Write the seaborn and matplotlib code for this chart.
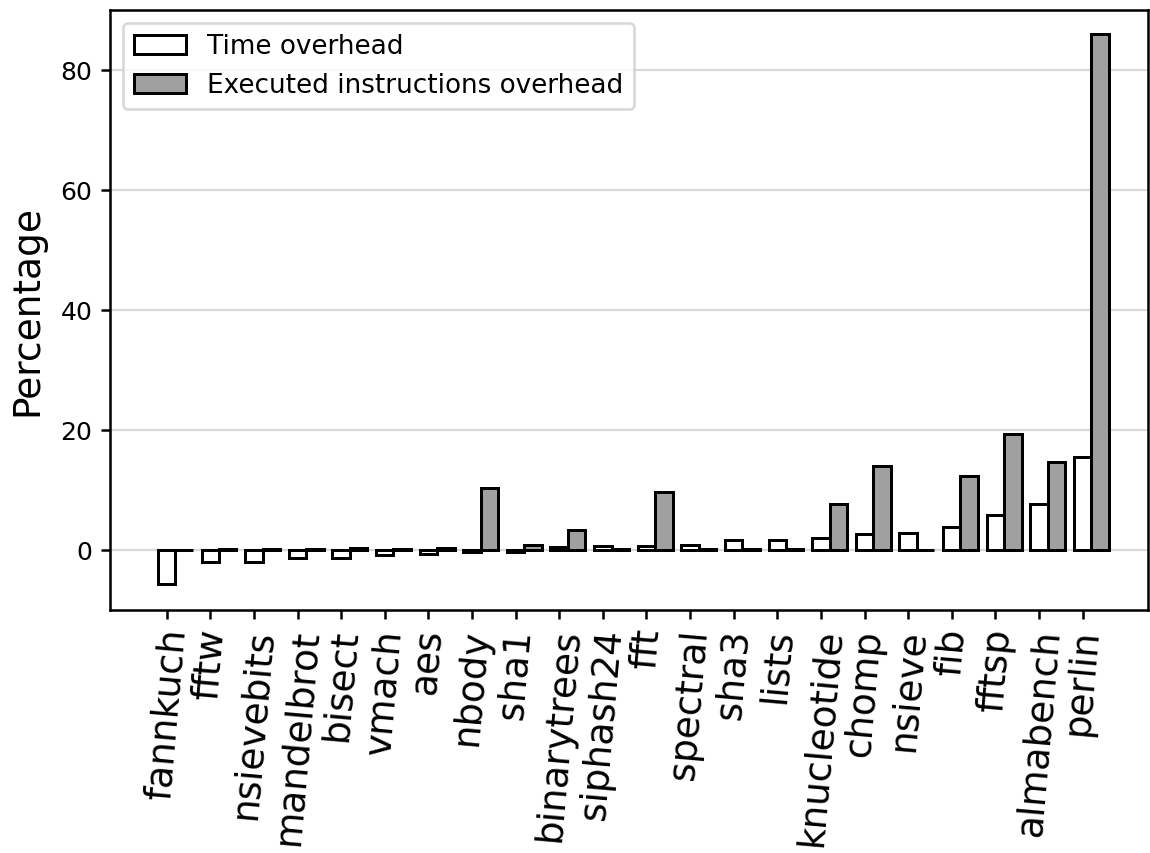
import numpy as np
import pandas as pd
import seaborn as sns
import matplotlib.pyplot as plt

# Benchmarks e overheads (%)
benchmarks = ['fannkuch', 'fftw', 'nsievebits', 'mandelbrot', 'bisect', 'vmach',
              'aes', 'nbody', 'sha1', 'binarytrees', 'siphash24', 'fft',
              'spectral', 'sha3', 'lists', 'knucleotide', 'chomp', 'nsieve',
              'fib', 'fftsp', 'almabench', 'perlin']
time_overhead = [-5.6, -2.0, -2.0, -1.3, -1.3, -0.9,
                 -0.6, -0.3, -0.3, 0.5, 0.6, 0.7,
                 0.8, 1.6, 1.6, 2.0, 2.6, 2.9,
                 3.9, 5.8, 7.7, 15.5]
instr_overhead = [0.05, 0.2, 0.1, 0.15, 0.3, 0.1,
                  0.3, 10.3, 0.8, 3.3, 0.2, 9.6,
                  0.1, 0.1, 0.1, 7.6, 14.0, 0.05,
                  12.4, 19.4, 14.6, 86.0]
series = ['Time overhead', 'Executed instructions overhead']

df = pd.DataFrame({
    'benchmark': benchmarks * 2,
    'value': time_overhead + instr_overhead,
    'kind': [series[0]] * len(benchmarks) + [series[1]] * len(benchmarks),
})

sns.set_style('ticks')
plt.rcParams['font.family'] = ['DejaVu Sans']
plt.rcParams['text.color'] = 'black'
plt.rcParams['axes.labelcolor'] = 'black'

fig = plt.figure(figsize=(1150 / 180, 853 / 180), dpi=180)
ax = fig.add_axes([110 / 1150, 1 - 610 / 853, 1038 / 1150, 600 / 853])

sns.barplot(data=df, x='benchmark', y='value', hue='kind', order=benchmarks,
            hue_order=series, palette=['white', '#a0a0a0'], width=0.8,
            edgecolor='black', linewidth=1.2, saturation=1, ax=ax, zorder=3)

n = len(benchmarks)
ax.set_xticks(np.arange(n) - 0.2)
ax.set_xticklabels(benchmarks, rotation=85, fontsize=15)
ax.set_xlim(-1.5, n + 0.3)
ax.set_ylim(-10, 90)
ax.set_yticks([0, 20, 40, 60, 80])
ax.tick_params(axis='y', labelsize=10)
ax.yaxis.grid(True, color='#d9d9d9', linewidth=0.9, zorder=0)
ax.set_axisbelow(True)
for s in ax.spines.values():
    s.set_color('black')
    s.set_linewidth(1.0)
ax.tick_params(colors='black', width=1.0)
ax.set_xlabel('')
ax.set_ylabel('Percentage', fontsize=15, labelpad=6)
ax.legend(title=None, loc='upper left', fontsize=10.5)

fig.savefig('out.png', dpi=180)
